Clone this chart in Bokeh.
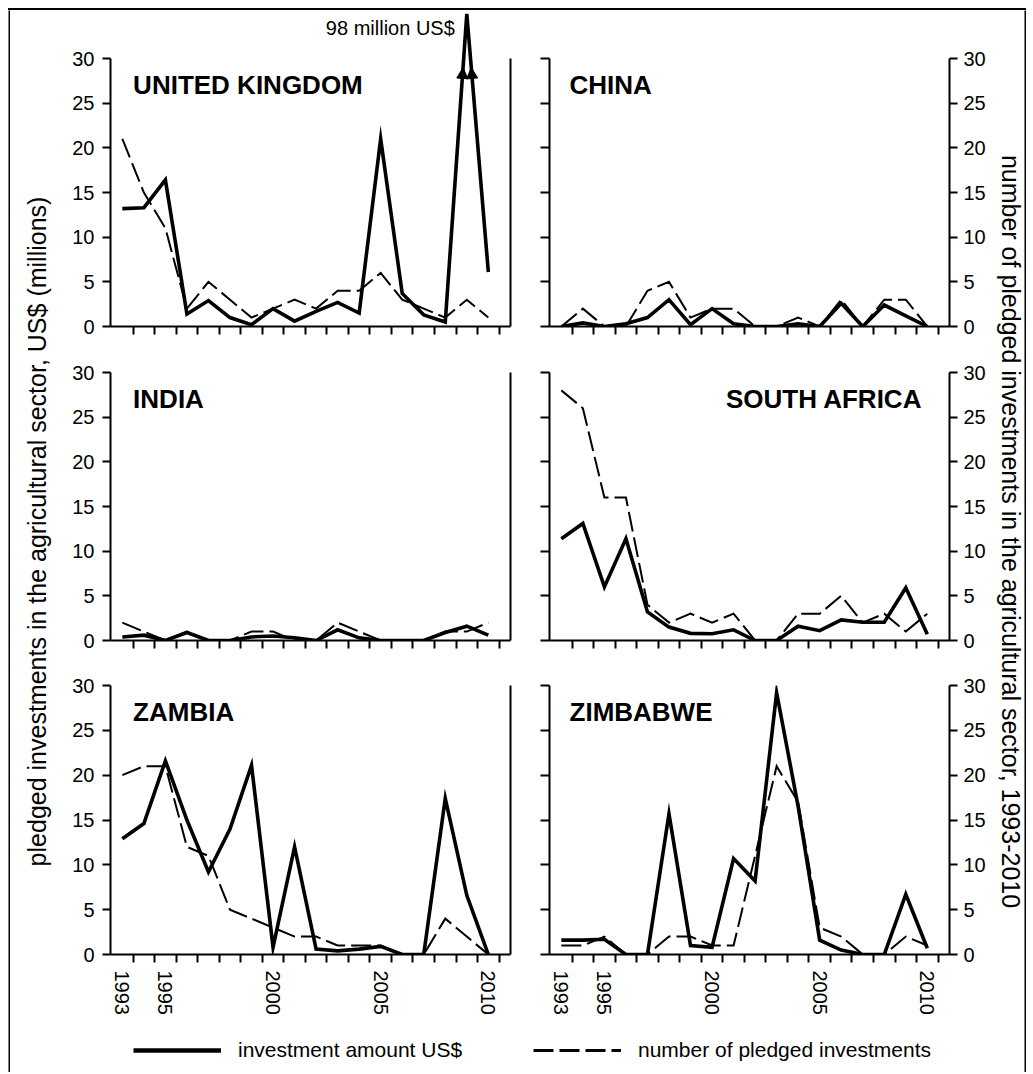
import math
from bokeh.plotting import figure
from bokeh.models import (Range1d, LinearAxis, FixedTicker, Label, Arrow, NormalHead,
                          Legend, LegendItem, ColumnDataSource, Div)
from bokeh.layouts import row, column
from bokeh.embed import file_html
from bokeh.resources import INLINE

# ---------------- data ----------------
years = list(range(1993, 2011))
major_years = [1993, 1995, 2000, 2005, 2010]
y_ticks = [0, 5, 10, 15, 20, 25, 30]

uk_amount = [13.2, 13.3, 16.4, 1.4, 2.9, 1.0, 0.2, 2.0, 0.6, 1.7, 2.7, 1.5, 21.0, 3.7, 1.3, 0.5, 98.0, 6.1]
uk_count = [21, 15, 11, 2, 5, 3, 1, 2, 3, 2, 4, 4, 6, 3, 2, 1, 3, 1]

china_amount = [0.0, 0.4, 0.0, 0.3, 1.0, 3.0, 0.2, 2.0, 0.3, 0.0, 0.0, 0.3, 0.0, 2.6, 0.0, 2.4, 1.2, 0.0]
china_count = [0, 2, 0, 0, 4, 5, 1, 2, 2, 0, 0, 1, 0, 3, 0, 3, 3, 0]

india_amount = [0.4, 0.6, 0.0, 0.9, 0.0, 0.0, 0.4, 0.5, 0.3, 0.0, 1.2, 0.3, 0.0, 0.0, 0.0, 0.9, 1.6, 0.6]
india_count = [2, 1, 0, 1, 0, 0, 1, 1, 0, 0, 2, 1, 0, 0, 0, 1, 1, 2]

sa_amount = [11.4, 13.1, 6.0, 11.4, 3.2, 1.5, 0.8, 0.75, 1.2, 0.0, 0.0, 1.6, 1.1, 2.3, 2.05, 2.05, 5.9, 0.7]
sa_count = [28, 26, 16, 16, 4, 2, 3, 2, 3, 0, 0, 3, 3, 5, 2, 3, 1, 3]

zambia_amount = [12.9, 14.6, 21.6, 15.0, 9.2, 14.0, 21.1, 0.8, 12.0, 0.6, 0.4, 0.6, 0.9, 0.0, 0.0, 17.4, 6.6, 0.0]
zambia_count = [20, 21, 21, 12, 11, 5, 4, 3, 2, 2, 1, 1, 1, 0, 0, 4, 2, 0]

zimbabwe_amount = [1.6, 1.6, 1.7, 0.0, 0.0, 15.7, 1.0, 0.8, 10.7, 8.2, 29.2, 16.5, 1.6, 0.5, 0.0, 0.0, 6.7, 0.7]
zimbabwe_count = [1, 1, 2, 0, 0, 2, 2, 1, 1, 11, 21, 17, 3, 2, 0, 0, 2, 1]

uk_display_cap = 35.0   # the 98 million US$ value is drawn cut off above the panel

# ---------------- style ----------------
FONT = "Liberation Sans"
X0, X1 = 1992.45, 2011.03
minor_ticks = [y + 0.5 for y in years]


def bare(width, height, fill=None):
    f = figure(width=width, height=height, toolbar_location=None, output_backend="svg",
               min_border=0, outline_line_color=None, x_axis_location=None,
               y_axis_location=None, x_range=Range1d(0, 1), y_range=Range1d(0, 1))
    f.xgrid.visible = False
    f.ygrid.visible = False
    if fill:
        f.background_fill_color = fill
        f.border_fill_color = fill
    return f


def base_axis(ax):
    ax.axis_line_width = 2
    ax.axis_line_color = "black"
    ax.major_tick_line_width = 2
    ax.major_tick_line_color = "black"
    ax.major_tick_out = 8
    ax.major_tick_in = 0
    ax.minor_tick_line_width = 2
    ax.minor_tick_line_color = "black"
    ax.minor_tick_in = 0
    ax.major_label_text_font = FONT
    ax.major_label_text_color = "black"
    ax.major_label_text_font_size = "20px"


def panel(col, rowi, name, amount, count, align="left", cap=None):
    if col == 0:
        w, bl, br = 470, 50, 20
    else:
        w, bl, br = 464, 19, 45
    if rowi == 0:
        h, bt, bb, ytop = 339, 0, 23, 30 * 316 / 268
    elif rowi == 1:
        h, bt, bb, ytop = 315, 23, 24, 30
    else:
        h, bt, bb, ytop = 366, 21, 76, 30
    p = figure(width=w, height=h, x_range=Range1d(X0, X1), y_range=Range1d(0, ytop),
               toolbar_location=None, output_backend="svg",
               min_border_left=bl, min_border_right=br, min_border_top=bt, min_border_bottom=bb,
               outline_line_color=None, x_axis_location=None, y_axis_location=None,
               background_fill_color="white", border_fill_color="white")
    p.xgrid.visible = False
    p.ygrid.visible = False

    # x axis: tick marks at the half years, year labels only on the bottom row
    if rowi == 2:
        xa = LinearAxis(ticker=FixedTicker(ticks=major_years, minor_ticks=minor_ticks))
    else:
        xa = LinearAxis(ticker=FixedTicker(ticks=[], minor_ticks=minor_ticks))
    base_axis(xa)
    xa.major_tick_line_color = None
    xa.minor_tick_out = 8
    xa.major_label_orientation = "vertical"
    xa.major_label_standoff = 8
    p.add_layout(xa, "below")

    if col == 0:
        ya = LinearAxis(ticker=FixedTicker(ticks=y_ticks, minor_ticks=[]), bounds=(0, 30))
        base_axis(ya)
        ya.major_label_standoff = 8
        p.add_layout(ya, "left")
        yr = LinearAxis(ticker=FixedTicker(ticks=[], minor_ticks=[]), bounds=(0, 30))
        base_axis(yr)
        p.add_layout(yr, "right")
    else:
        ya = LinearAxis(ticker=FixedTicker(ticks=[], minor_ticks=y_ticks), bounds=(0, 30))
        base_axis(ya)
        ya.minor_tick_out = 9
        p.add_layout(ya, "left")
        yr = LinearAxis(ticker=FixedTicker(ticks=y_ticks, minor_ticks=[]), bounds=(0, 30))
        base_axis(yr)
        yr.major_label_standoff = 6
        p.add_layout(yr, "right")

    shown = list(amount) if cap is None else [min(v, cap) for v in amount]
    src = ColumnDataSource(dict(year=years, amount=shown, count=count))
    p.line("year", "count", source=src, line_width=2, line_dash="20 6", line_color="black",
           line_join="miter")
    p.line("year", "amount", source=src, line_width=3.6, line_color="black", line_join="miter")

    if align == "left":
        tx = 1993.5 if col == 0 else 1993.38
    else:
        tx = 2009.77
    p.add_layout(Label(x=tx, y=27, text=name, text_font=FONT, text_font_style="bold",
                       text_font_size="26px", text_align=align, text_baseline="alphabetic",
                       text_color="black"))
    return p


uk = panel(0, 0, "UNITED KINGDOM", uk_amount, uk_count, cap=uk_display_cap)
china = panel(1, 0, "CHINA", china_amount, china_count)
india = panel(0, 1, "INDIA", india_amount, india_count)
sa = panel(1, 1, "SOUTH AFRICA", sa_amount, sa_count, align="right")
zambia = panel(0, 2, "ZAMBIA", zambia_amount, zambia_count)
zimbabwe = panel(1, 2, "ZIMBABWE", zimbabwe_amount, zimbabwe_count)

# arrows on the cut-off 2009 UK value, derived from the data
i9 = years.index(2009)
peak = min(uk_amount[i9], uk_display_cap)
for j in (i9 - 1, i9 + 1):
    v = uk_amount[j]
    x_at = lambda yv: years[j] + (years[i9] - years[j]) * (yv - v) / (peak - v)
    uk.add_layout(Arrow(x_start=x_at(25.0), y_start=25.0, x_end=x_at(29.0), y_end=29.0,
                        line_alpha=0,
                        end=NormalHead(size=11, fill_color="black", line_color="black")))
uk.add_layout(Label(x=years[i9], y=33.4, x_offset=-12, text="%d million US$" % uk_amount[i9],
                    text_font=FONT, text_font_size="20px", text_align="right",
                    text_baseline="middle", text_color="black"))


# ---------------- side titles ----------------
def side_title(width, text, x, angle):
    f = figure(width=width, height=1020, x_range=Range1d(0, width), y_range=Range1d(0, 1020),
               toolbar_location=None, output_backend="svg", min_border=0,
               outline_line_color=None, x_axis_location=None, y_axis_location=None)
    f.xgrid.visible = False
    f.ygrid.visible = False
    f.add_layout(Label(x=x, y=1020 - 521, text=text, angle=angle, text_font=FONT,
                       text_font_size="25px", text_align="center", text_baseline="middle",
                       text_color="black"))
    return f


left_t = side_title(50, "pledged investments in the agricultural sector, US$ (millions)", 26, math.pi / 2)
right_t = side_title(30, "number of pledged investments in the agricultural sector, 1993-2010", 16, -math.pi / 2)

# ---------------- legend ----------------
lg = figure(width=1014, height=42, x_range=Range1d(0, 1), y_range=Range1d(0, 1),
            toolbar_location=None, output_backend="svg", min_border=0,
            outline_line_color=None, x_axis_location=None, y_axis_location=None)
lg.xgrid.visible = False
lg.ygrid.visible = False
r_solid = lg.line(x=[0.5], y=[0.5], line_width=4.5, line_color="black")
r_dash = lg.line(x=[0.5], y=[0.5], line_width=3, line_color="black", line_dash="20 6")
for rend, lab, loc in ((r_solid, "investment amount US$", (123, 10)),
                       (r_dash, "number of pledged investments", (523, 10))):
    lg.add_layout(Legend(items=[LegendItem(label=lab, renderers=[rend])], location=loc,
                         glyph_width=88, label_standoff=17, padding=0, margin=0,
                         border_line_color=None, background_fill_alpha=0,
                         label_text_font=FONT, label_text_font_size="21px",
                         label_text_color="black"))

# ---------------- frame round the whole figure ----------------
inner_h = 1020 + 42
top_strip = Div(width=1018, height=2, margin=0,
                styles={"background-color": "black", "width": "1018px", "height": "2px"})
left_strip = bare(2, inner_h, fill="black")
right_strip = bare(2, inner_h, fill="black")

panels = column(row(uk, china), row(india, sa), row(zambia, zimbabwe))
content = column(row(left_t, panels, right_t), lg)
layout = column(top_strip, row(left_strip, content, right_strip), margin=(8, 0, 0, 8))

open("out.html", "w").write(file_html(layout, INLINE))
